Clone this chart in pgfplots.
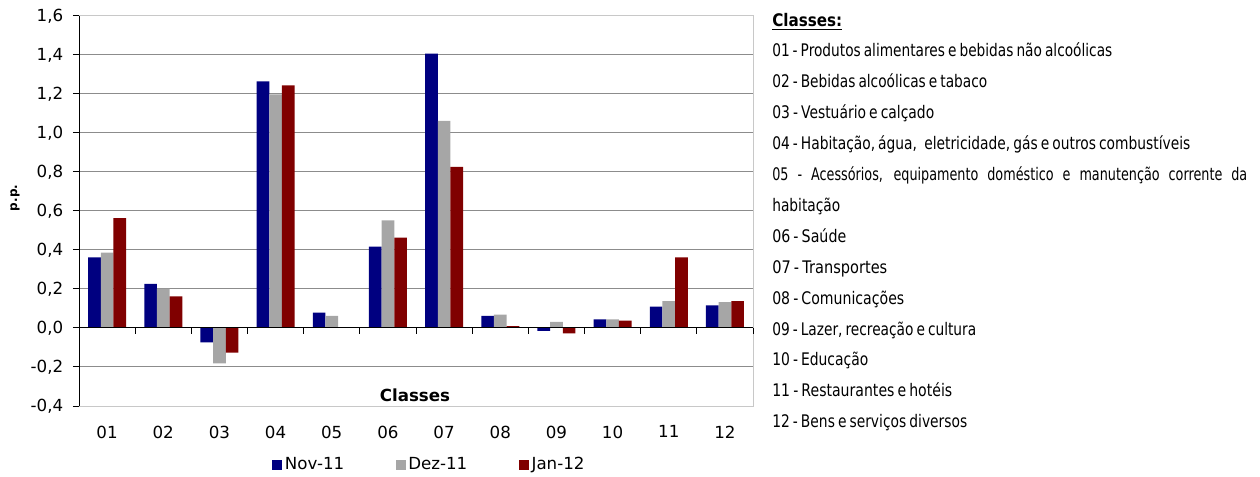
\documentclass[border=0pt]{standalone}
\usepackage{pgfplots}
\pgfplotsset{compat=1.18}
\usepackage{pgfplotstable}
\usepackage{graphicx}
\usepackage{fontspec}
\setmainfont{DejaVu Sans}
\newfontfamily\listfont{DejaVu Sans}
\definecolor{cnov}{RGB}{0,0,128}
\definecolor{cdez}{RGB}{166,166,166}
\definecolor{cjan}{RGB}{128,0,0}
\definecolor{cgrid}{RGB}{140,140,140}
\definecolor{cframe}{RGB}{200,200,200}

\pgfplotstableread{
x nov dez jan
0 0.362 0.386 0.564
1 0.226 0.202 0.162
2 -0.074 -0.181 -0.126
3 1.265 1.198 1.244
4 0.079 0.062 0.003
5 0.417 0.552 0.463
6 1.407 1.062 0.826
7 0.062 0.068 0.009
8 -0.015 0.031 -0.027
9 0.044 0.044 0.038
10 0.109 0.138 0.362
11 0.116 0.133 0.138
}\datatable

\newcommand\lst[3]{\node[anchor=base west, inner sep=0pt] at (579bp,{(477-#1)*0.75bp}) {\resizebox{#2bp}{\height}{\listfont\fontsize{13bp}{15bp}\selectfont\spaceskip=0.22em plus 1em\relax #3}};}

\begin{document}
\fontsize{12.5bp}{15bp}\selectfont
\begin{tikzpicture}
\path[use as bounding box] (0,0) rectangle (945bp,357.75bp);
\begin{axis}[
  at={(59.25bp,53.25bp)}, anchor=south west,
  scale only axis, width=505.5bp, height=292.5bp,
  ybar=0pt, bar width=9.5bp,
  xmin=-0.5, xmax=11.5, ymin=-0.4, ymax=1.6,
  xtick={0,...,11},
  xticklabels={01,02,03,04,05,06,07,08,09,10,11,12},
  ytick={-0.4,-0.2,0,0.2,0.4,0.6,0.8,1.0,1.2,1.4,1.6},
  axis line style={draw=none},
  xtick style={draw=none},
  ytick style={black, line width=0.75bp},
  ytick pos=left, tick align=outside, major tick length=4.5bp,
  ymajorgrids, major grid style={cgrid, line width=0.75bp},
  yticklabel={\pgfmathprintnumber[use comma, fixed, fixed zerofill, precision=1, assume math mode=true]{\tick}},
  yticklabel style={xshift=-3bp},
  xticklabel style={yshift=-6bp},
  clip=false,
  legend image code/.code={\fill[#1] (0bp,-3.75bp) rectangle (7.5bp,3.75bp);},
  legend style={at={(0.2864,-0.1513)}, anchor=west, draw=none, fill=none, inner sep=0pt, legend columns=3},
]
\addplot[fill=cnov, draw=none] table[x=x, y=nov] {\datatable};
\addplot[fill=cdez, draw=none] table[x=x, y=dez] {\datatable};
\addplot[fill=cjan, draw=none] table[x=x, y=jan] {\datatable};
\legend{\makebox[81bp][l]{Nov-11},\makebox[81bp][l]{Dez-11},\makebox[81bp][l]{Jan-12}}
\draw[cframe, line width=0.75bp] (rel axis cs:0,0) -- (rel axis cs:1,0) -- (rel axis cs:1,1) -- (rel axis cs:0,1);
\draw[black, line width=0.75bp] (rel axis cs:0,0) -- (rel axis cs:0,1);
\draw[black, line width=0.75bp] (axis cs:-0.5,0) -- (axis cs:11.5,0);
\pgfplotsinvokeforeach{0.5,1.5,2.5,3.5,4.5,5.5,6.5,7.5,8.5,9.5,10.5,11.5}{\draw[black, line width=0.75bp] (axis cs:#1,0) -- ([yshift=-4.5bp]axis cs:#1,0);}
\end{axis}
\node[rotate=90, font=\bfseries\fontsize{9bp}{10bp}\selectfont] at (11.25bp,{(477-198)*0.75bp}) {p.p.};
\node[font=\bfseries] at (311.25bp,61.5bp) {Classes};
\lst{27}{52.5}{\textbf{\underline{Classes:}}}
\lst{57}{255}{01 - Produtos alimentares e bebidas não alcoólicas}
\lst{87.9}{161.25}{02 - Bebidas alcoólicas e tabaco}
\lst{118.8}{121.5}{03 - Vestuário e calçado}
\lst{149.7}{313.5}{04 - Habitação, água, \hspace{0.3em}eletricidade, gás e outros combustíveis}
\lst{180.6}{356.25}{\makebox[1.12\width][s]{05 - Acessórios, equipamento doméstico e manutenção corrente da}}
\lst{211.5}{51}{habitação}
\lst{242.4}{55.5}{06 - Saúde}
\lst{273.3}{86.25}{07 - Transportes}
\lst{304.2}{99}{08 - Comunicações}
\lst{335.1}{153}{09 - Lazer, recreação e cultura}
\lst{366}{72}{10 - Educação}
\lst{396.9}{135}{11 - Restaurantes e hotéis}
\lst{427.8}{146.25}{12 - Bens e serviços diversos}
\end{tikzpicture}
\end{document}
